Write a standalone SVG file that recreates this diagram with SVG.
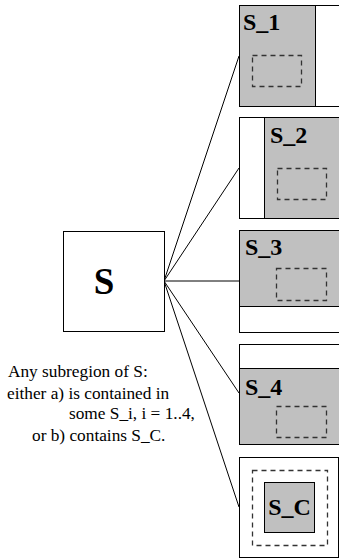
<svg xmlns="http://www.w3.org/2000/svg" width="339" height="559" viewBox="0 0 339 559">
<style>
.box{fill:#fff;stroke:#000;stroke-width:1}
.gray{fill:#c0c0c0;stroke:#000;stroke-width:1}
.dash{fill:none;stroke:#333;stroke-width:1.3;stroke-dasharray:5,4}
.lbl{font-family:'Liberation Serif','Times New Roman',Times,serif;font-weight:bold;font-size:24px;fill:#000}
.txt{font-family:'Liberation Serif','Times New Roman',Times,serif;font-size:17.3px;fill:#000}
.conn line{stroke:#000;stroke-width:1}
</style>
<rect width="339" height="559" fill="#fff"/>
<g class="conn" id="connectors">
<line x1="164" y1="281" x2="239" y2="56"/>
<line x1="164" y1="281" x2="239" y2="168"/>
<line x1="164" y1="281" x2="239" y2="281"/>
<line x1="164" y1="281" x2="239" y2="393"/>
<line x1="164" y1="281" x2="239" y2="507"/>
</g>
<g id="S">
<rect class="box" x="63.5" y="231.5" width="101" height="100"/>
<text class="lbl" x="104" y="294" text-anchor="middle" style="font-size:37px">S</text>
</g>
<g id="S_1">
<rect class="box" x="239.5" y="5.5" width="102" height="101"/>
<rect class="gray" x="239.5" y="5.5" width="76" height="101"/>
<rect class="dash" x="252.5" y="55.5" width="49" height="31"/>
<text class="lbl" x="243" y="30">S_1</text>
</g>
<g id="S_2">
<rect class="box" x="239.5" y="117.5" width="102" height="101"/>
<rect class="gray" x="264.5" y="117.5" width="77" height="101"/>
<rect class="dash" x="277.5" y="168.5" width="49" height="31"/>
<text class="lbl" x="270" y="143">S_2</text>
</g>
<g id="S_3">
<rect class="box" x="239.5" y="230.5" width="102" height="102"/>
<rect class="gray" x="239.5" y="230.5" width="102" height="76"/>
<rect class="dash" x="276.5" y="268.5" width="50" height="32"/>
<text class="lbl" x="245" y="255">S_3</text>
</g>
<g id="S_4">
<rect class="box" x="239.5" y="344.5" width="102" height="100"/>
<rect class="gray" x="239.5" y="368.5" width="102" height="76"/>
<rect class="dash" x="276.5" y="406.5" width="50" height="31"/>
<text class="lbl" x="245" y="395">S_4</text>
</g>
<g id="S_C">
<rect class="box" x="239.5" y="457.5" width="99" height="100"/>
<rect class="dash" x="252.5" y="470.5" width="75" height="75"/>
<rect class="gray" x="264.5" y="482.5" width="50" height="50"/>
<text class="lbl" x="289.5" y="515" text-anchor="middle">S_C</text>
</g>
<g id="note">
<text class="txt" x="8" y="377">Any subregion of S:</text>
<text class="txt" x="7" y="399">either a) is contained in</text>
<text class="txt" x="69" y="419">some S_i, i = 1..4,</text>
<text class="txt" x="32" y="441">or b) contains S_C.</text>
</g>
</svg>
